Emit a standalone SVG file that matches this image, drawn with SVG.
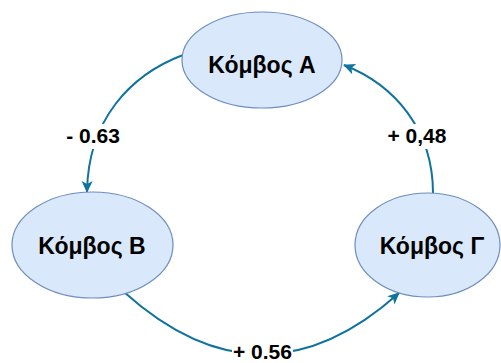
<svg xmlns="http://www.w3.org/2000/svg" width="501" height="363" viewBox="0 0 501 363">
  <defs>
    <style>
      .node ellipse { fill: #dae8fc; stroke: #6c8ebf; stroke-width: 1.2; }
      .node text { font-family: "Liberation Sans", Arial, sans-serif; font-weight: bold; font-size: 23px; fill: #000; text-anchor: middle; }
      .edge { fill: none; stroke: #10739e; stroke-width: 2; marker-end: url(#arrow); }
      .lbl-bg { fill: #ffffff; }
      .lbl { font-family: "Liberation Sans", Arial, sans-serif; font-weight: bold; font-size: 21px; fill: #000; text-anchor: middle; }
    </style>
    <marker id="arrow" markerUnits="userSpaceOnUse" markerWidth="14" markerHeight="12" viewBox="0 -6 12 12" refX="11" refY="0" orient="auto">
      <path d="M0,-5.5 L12,0 L0,5.5 L3,0 Z" fill="#10739e"/>
    </marker>
  </defs>

  <!-- connectors -->
  <g id="edges">
    <path class="edge" d="M183,55 C130,75 88,120 87,192"/>
    <path class="edge" d="M433,193 C433,130 395,85 344,65"/>
    <path class="edge" d="M124,292 Q262,416 399,293"/>

    <rect class="lbl-bg" x="65" y="124" width="56" height="25"/>
    <text class="lbl" x="93" y="143">- 0.63</text>

    <rect class="lbl-bg" x="387" y="124" width="61" height="25"/>
    <text class="lbl" x="417" y="143">+ 0,48</text>

    <rect class="lbl-bg" x="232" y="341" width="61" height="22"/>
    <text class="lbl" x="262.5" y="358.5">+ 0.56</text>
  </g>

  <g id="node-a" class="node">
    <ellipse cx="262" cy="60" rx="80" ry="48"/>
    <text x="262" y="73">Κόμβος A</text>
  </g>

  <g id="node-b" class="node">
    <ellipse cx="92.5" cy="245" rx="80.5" ry="53"/>
    <text x="92" y="254">Κόμβος B</text>
  </g>

  <g id="node-g" class="node">
    <ellipse cx="427.5" cy="245" rx="72.5" ry="52"/>
    <text x="432" y="254">Κόμβος Γ</text>
  </g>
</svg>
